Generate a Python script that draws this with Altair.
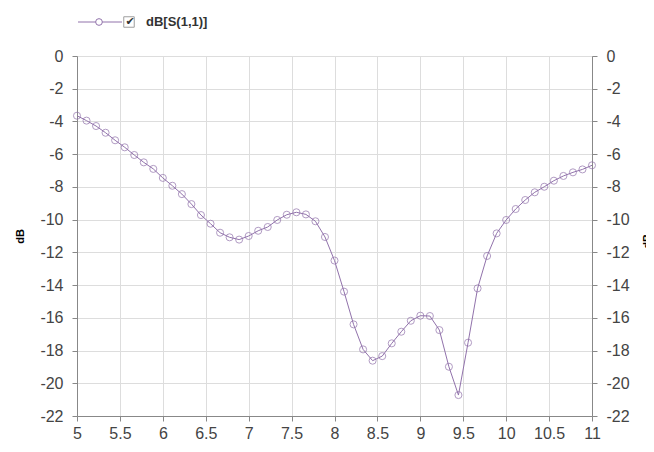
import altair as alt
import pandas as pd

freq = [5.0, 5.111, 5.222, 5.333, 5.444, 5.556, 5.667, 5.778, 5.889, 6.0,
        6.111, 6.222, 6.333, 6.444, 6.556, 6.667, 6.778, 6.889, 7.0, 7.111,
        7.222, 7.333, 7.444, 7.556, 7.667, 7.778, 7.889, 8.0, 8.111, 8.222,
        8.333, 8.444, 8.556, 8.667, 8.778, 8.889, 9.0, 9.111, 9.222, 9.333,
        9.444, 9.556, 9.667, 9.778, 9.889, 10.0, 10.111, 10.222, 10.333, 10.444,
        10.556, 10.667, 10.778, 10.889, 11.0]
s11_db = [-3.65, -3.95, -4.28, -4.69, -5.15, -5.58, -6.05, -6.5, -6.9, -7.45,
          -7.93, -8.44, -9.05, -9.72, -10.25, -10.8, -11.08, -11.22, -11.0, -10.68,
          -10.45, -10.02, -9.7, -9.55, -9.68, -10.1, -11.06, -12.5, -14.4, -16.4,
          -17.93, -18.62, -18.34, -17.56, -16.85, -16.18, -15.87, -15.89, -16.75, -18.99,
          -20.72, -17.52, -14.2, -12.22, -10.84, -10.02, -9.35, -8.8, -8.33, -7.99,
          -7.62, -7.33, -7.11, -6.93, -6.68]
x_ticks = [5, 5.5, 6, 6.5, 7, 7.5, 8, 8.5, 9, 9.5, 10, 10.5, 11]
y_ticks = [0, -2, -4, -6, -8, -10, -12, -14, -16, -18, -20, -22]
series_name = "dB[S(1,1)]"
y_title = "dB"

LINE = "#9172ab"
FONT = "Liberation Sans"
LBL = dict(labelFont=FONT, labelFontSize=16, labelColor="#444")

df = pd.DataFrame({"freq": freq, "db": s11_db})

x_enc = alt.X("freq:Q", scale=alt.Scale(domain=[5, 11], nice=False, zero=False),
              axis=alt.Axis(values=x_ticks, labelExpr="datum.value + ''", title=None,
                            labelPadding=4, labelFlush=False, **LBL))
y_scale = alt.Scale(domain=[-22, 0], nice=False, zero=False)

left_axis = alt.Axis(values=y_ticks, labelExpr="datum.value + ''", title=y_title,
                     orient="left", labelPadding=9, titleX=-57, titleY=180,
                     titleAngle=270, titleAlign="center", titleBaseline="middle", **LBL)
right_axis = alt.Axis(values=y_ticks, labelExpr="datum.value + ''", title=y_title,
                      orient="right", labelPadding=9, grid=False, titleX=55, titleY=185,
                      titleAngle=270, titleAlign="center", titleBaseline="middle", **LBL)

base = alt.Chart(df)
line = base.mark_line(color=LINE, strokeWidth=1).encode(
    x=x_enc, y=alt.Y("db:Q", scale=y_scale, axis=left_axis))
pts = base.mark_point(shape="circle", filled=False, size=50, color=LINE, strokeWidth=1).encode(
    x="freq:Q", y=alt.Y("db:Q", scale=y_scale, axis=None))
right = base.mark_line(opacity=0).encode(
    x="freq:Q", y=alt.Y("db:Q", scale=y_scale, axis=right_axis))

leg_df = pd.DataFrame({"label": [series_name]})
leg = alt.Chart(leg_df)
leg_line = leg.mark_rule(color=LINE, strokeWidth=1).encode(
    x=alt.value(1), x2=alt.value(45), y=alt.value(-34))
leg_pt = leg.mark_point(shape="circle", filled=False, size=45, color=LINE, strokeWidth=1,
                        fill="white", fillOpacity=1).encode(x=alt.value(22), y=alt.value(-34))
leg_box = leg.mark_square(filled=False, size=110, color="#777", strokeWidth=1).encode(
    x=alt.value(52), y=alt.value(-34))
leg_check = leg.mark_text(text="✔", fontSize=11, color="#333", align="center",
                          baseline="middle", font="DejaVu Sans").encode(
    x=alt.value(53), y=alt.value(-34))
leg_text = leg.mark_text(fontSize=13, fontWeight="bold", color="#333", align="left",
                         baseline="middle", font=FONT).encode(
    x=alt.value(69), y=alt.value(-34), text="label:N")

chart = alt.layer(line, pts, right, leg_line, leg_pt, leg_box, leg_check, leg_text).resolve_axis(
    y="independent"
).properties(
    width=515, height=360,
    autosize=alt.AutoSizeParams(type="none"),
    padding={"left": 69, "top": 48, "right": 54, "bottom": 28},
).configure_view(
    stroke="#555", strokeWidth=1.5
).configure_axis(
    domain=False, ticks=False,
    titleFont="Liberation Sans", titleFontSize=11, titleFontWeight="bold", titleColor="#444",
    gridColor="#dedede", gridDash=[3, 3], gridWidth=1,
).configure(background="white")

chart.save("out.html", embed_options={"renderer": "svg", "actions": False})
